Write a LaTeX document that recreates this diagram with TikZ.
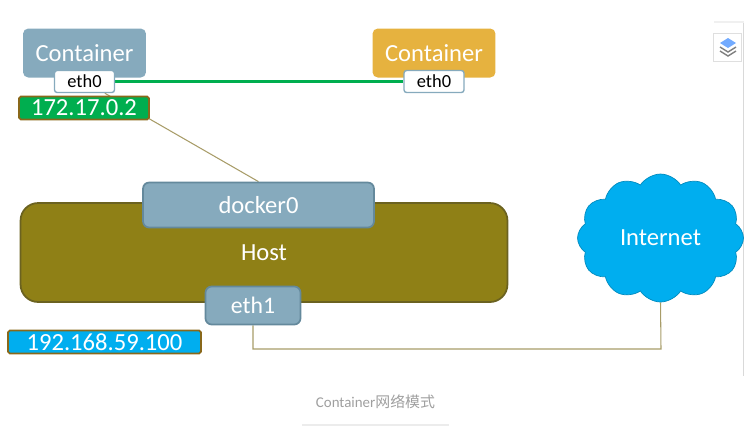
\documentclass[tikz,border=0pt]{standalone}
\usepackage{fontspec}
\setmainfont{Carlito}
\newfontfamily\cjkfont{Noto Sans CJK SC}
\usetikzlibrary{shapes,shapes.symbols,positioning,backgrounds}
\definecolor{steelbox}{HTML}{86AABD}
\definecolor{steeledge}{HTML}{64899C}
\definecolor{goldbox}{HTML}{E6B23F}
\definecolor{olivebox}{HTML}{8F8016}
\definecolor{oliveedge}{HTML}{6B6220}
\definecolor{greenbox}{HTML}{00AE4F}
\definecolor{cyanbox}{HTML}{00AEEF}
\definecolor{wirecolor}{HTML}{A89C68}
\begin{document}
\begin{tikzpicture}[x=0.02cm,y=-0.02cm]
  \tikzstyle{panel} = [rectangle, rounded corners=3pt, minimum width=2.46cm, minimum height=0.98cm, text=white, font=\fontsize{14}{15}\selectfont, inner sep=0pt]
  \tikzstyle{port} = [rectangle, rounded corners=1.5pt, draw=steelbox, line width=0.8pt, fill=white, minimum width=1.2cm, minimum height=0.44cm, inner sep=0pt, font=\fontsize{10.5}{11}\selectfont]
  \tikzstyle{steel} = [rectangle, rounded corners=3.5pt, draw=steeledge, line width=1pt, fill=steelbox, text=white, inner sep=0pt, font=\fontsize{14}{15}\selectfont]
  \tikzstyle{addr} = [rectangle, rounded corners=1pt, line width=1pt, inner sep=0pt, text=white, font=\fontsize{14}{15}\selectfont]
  \tikzstyle{wire} = [draw=wirecolor, line width=0.6pt]

  \useasboundingbox (0,0) rectangle (753,441);

  % side bar of the page
  \coordinate (barT) at (743.5,22);
  \coordinate (barB) at (743.5,376);
  \coordinate (barL) at (714,22);
  \draw[gray!30, line width=0.8pt] (barT) -- (barB);
  \draw[gray!12, line width=0.8pt] (barL) -- (barT);
  \node[draw=gray!25, fill=white, minimum width=0.56cm, minimum height=0.56cm, inner sep=0pt] (layers) at (727,47.5) {};
  \fill[blue!60!cyan!55] (728,38) -- (736,43) -- (728,48) -- (720,43) -- cycle;
  \draw[gray, line width=0.8pt] (720,47) -- (728,52) -- (736,47);
  \draw[gray, line width=0.8pt] (720,51) -- (728,56) -- (736,51);

  % containers
  \node[panel, fill=steelbox] (box1) at (84.5,53) {Container};
  \node[panel, fill=goldbox] (box2) at (434,53) {Container};
  \node[port] (eth0a) at (84.5,81.5) {eth0};
  \node[port] (eth0b) at (434,81.5) {eth0};
  \node[addr, draw=oliveedge!80!orange, fill=greenbox, minimum width=2.6cm, minimum height=0.46cm] (ip1) at (84,108) {172.17.0.2};

  % host
  \node[rectangle, rounded corners=10pt, draw=oliveedge, line width=1pt, fill=olivebox, text=white, minimum width=9.74cm, minimum height=1.98cm, inner sep=0pt, font=\fontsize{14}{15}\selectfont] (host) at (264,252.5) {Host};
  \node[steel, minimum width=4.62cm, minimum height=0.9cm] (docker0) at (258.5,205) {docker0};
  \node[steel, minimum width=1.9cm, minimum height=0.76cm, font=\fontsize{13.5}{14}\selectfont] (eth1) at (253,305.5) {eth1};
  \node[addr, draw=oliveedge!80!orange, fill=cyanbox, minimum width=3.86cm, minimum height=0.46cm] (ip2) at (104.5,342) {192.168.59.100};

  % internet
  \node[cloud, cloud puffs=12, cloud puff arc=115, aspect=1.3, draw=cyanbox!80!black, fill=cyanbox, text=white, minimum width=3.32cm, minimum height=2.56cm, inner sep=0pt, font=\fontsize{14}{15}\selectfont] (inet) at (660.5,238) {Internet};

  \node[text=gray!75, font=\fontsize{8.5}{10}\selectfont] (caption) at (375.5,401.5) {Container{\cjkfont 网络模式}};

  \coordinate (bend) at (661,349);
  \coordinate (ruleL) at (302,425);
  \coordinate (ruleR) at (449,425);

  \begin{scope}[on background layer]
    \draw[wire] (eth0a) -- (docker0.north);
    \draw[wire] (eth1.south) |- (bend) -- (inet.south);
    \draw[greenbox, line width=1.2pt] (eth0a) -- (eth0b);
    \draw[gray!15, line width=0.6pt] (ruleL) -- (ruleR);
  \end{scope}
\end{tikzpicture}
\end{document}
